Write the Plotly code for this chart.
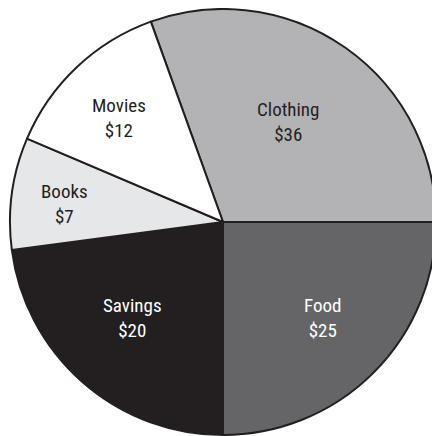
import math
import plotly.graph_objects as go

categories = ["Clothing", "Food", "Savings", "Books", "Movies"]
amounts = [36, 25, 20, 7, 12]                 # dollar labels printed on the slices
slice_shares = [30.5, 25.0, 22.9, 8.5, 13.1]  # slice sizes as drawn in the picture (%)
slice_colors = ["#b3b3b6", "#656567", "#231f20", "#e6e7e8", "#ffffff"]
text_colors = ["#231f20", "#ffffff", "#ffffff", "#231f20", "#231f20"]

# label placement style: angular shift from slice middle (deg) and radius fraction
label_angle_shift = [-2.1, -1.2, 2.3, -1.4, -1.4]
label_radius_frac = [0.56, 0.65, 0.62, 0.75, 0.69]

ROTATION = -19.8
FONT = "Liberation Sans Narrow, Roboto Condensed, Arial Narrow, sans-serif"

fig = go.Figure(go.Pie(
    labels=categories,
    values=slice_shares,
    customdata=amounts,
    textinfo="none",
    sort=False,
    direction="clockwise",
    rotation=ROTATION,
    marker=dict(colors=slice_colors, line=dict(color="#231f20", width=2)),
    hovertemplate="%{label}: $%{customdata}<extra></extra>",
    showlegend=False,
    domain=dict(x=[0, 1], y=[0, 1]),
))

total = sum(slice_shares)
cum = 0.0
annotations = []
for cat, share, amt, col, dshift, rf in zip(categories, slice_shares, amounts, text_colors,
                                            label_angle_shift, label_radius_frac):
    mid = ROTATION + (cum + share / 2) / total * 360.0
    cum += share
    ang = math.radians(mid + dshift)
    x = 0.5 + 0.5 * rf * math.sin(ang)
    y = 0.5 + 0.5 * rf * math.cos(ang)
    annotations.append(dict(
        x=x, y=y, xref="paper", yref="paper",
        text=f"{cat}<br>${amt}", showarrow=False,
        xanchor="center", yanchor="middle", align="center",
        font=dict(family=FONT, size=19, color=col),
    ))

fig.update_layout(
    width=440, height=436,
    margin=dict(l=2, r=12, t=1, b=9),
    paper_bgcolor="white",
    plot_bgcolor="white",
    annotations=annotations,
)

fig.write_html("out.html")
